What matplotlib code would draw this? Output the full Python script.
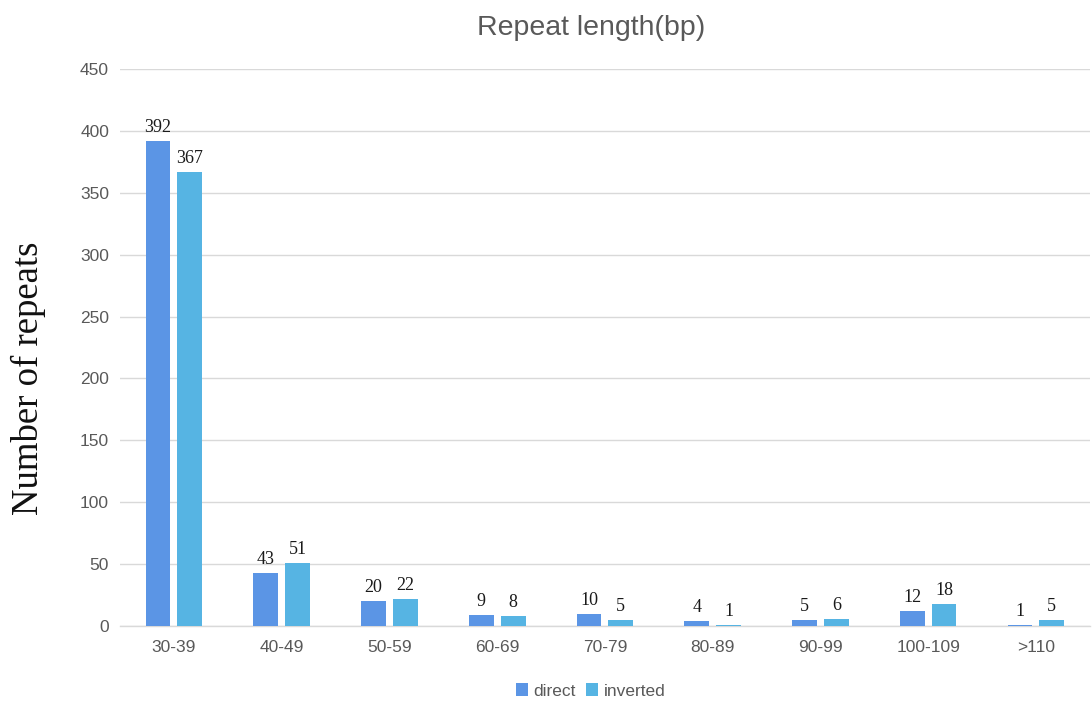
import numpy as np
import matplotlib.pyplot as plt

categories = ["30-39", "40-49", "50-59", "60-69", "70-79", "80-89", "90-99", "100-109", ">110"]
direct = [392, 43, 20, 9, 10, 4, 5, 12, 1]
inverted = [367, 51, 22, 8, 5, 1, 6, 18, 5]
y_ticks = [0, 50, 100, 150, 200, 250, 300, 350, 400, 450]

c_direct = "#5B95E5"
c_inverted = "#56B4E3"
grid_c = "#D9D9D9"
text_c = "#595959"

fig = plt.figure(figsize=(10.92, 7.02), dpi=100)
ax = fig.add_axes([0.110, 0.1083, 0.888, 0.7934])

x = np.arange(len(categories))
w = 0.23
gap = 0.065
b1 = ax.bar(x - (w + gap) / 2, direct, w, color=c_direct, label="direct", zorder=3)
b2 = ax.bar(x + (w + gap) / 2, inverted, w, color=c_inverted, label="inverted", zorder=3)

for bars, vals in ((b1, direct), (b2, inverted)):
    for rect, v in zip(bars, vals):
        ax.text(rect.get_x() + rect.get_width() / 2, v + 4, str(v),
                ha="center", va="bottom", fontsize=13,
                family="Liberation Serif", color="#1a1a1a", zorder=4)

ax.set_xlim(-0.5, len(categories) - 0.5)
ax.set_ylim(0, 450)
ax.set_yticks(y_ticks)
ax.set_xticks(x)
ax.set_xticklabels(categories)
ax.tick_params(axis="both", length=0, labelsize=12.5, labelcolor=text_c)
ax.tick_params(axis="x", pad=10)
ax.tick_params(axis="y", pad=8)
for lab in ax.get_xticklabels() + ax.get_yticklabels():
    lab.set_family("Liberation Sans")

ax.grid(axis="y", color=grid_c, linewidth=1, zorder=0)
for s in ("top", "right", "left"):
    ax.spines[s].set_visible(False)
ax.spines["bottom"].set_color(grid_c)
ax.spines["bottom"].set_linewidth(1)

fig.text(0.541, 0.960, "Repeat length(bp)", fontsize=20.5, color=text_c,
         family="Liberation Sans", ha="center", va="center")
fig.text(0.0256, 0.4615, "Number of repeats", fontsize=26.5,
         family="Liberation Serif", color="#111111",
         rotation=90, ha="center", va="center")

leg = fig.legend(loc="center", bbox_to_anchor=(0.541, 0.0157), ncol=2,
                 frameon=False, handlelength=0.7, handleheight=0.7,
                 handletextpad=0.3, columnspacing=0.6,
                 prop={"family": "Liberation Sans", "size": 12.5})
for t in leg.get_texts():
    t.set_color(text_c)

fig.savefig("out.png", dpi=100)
